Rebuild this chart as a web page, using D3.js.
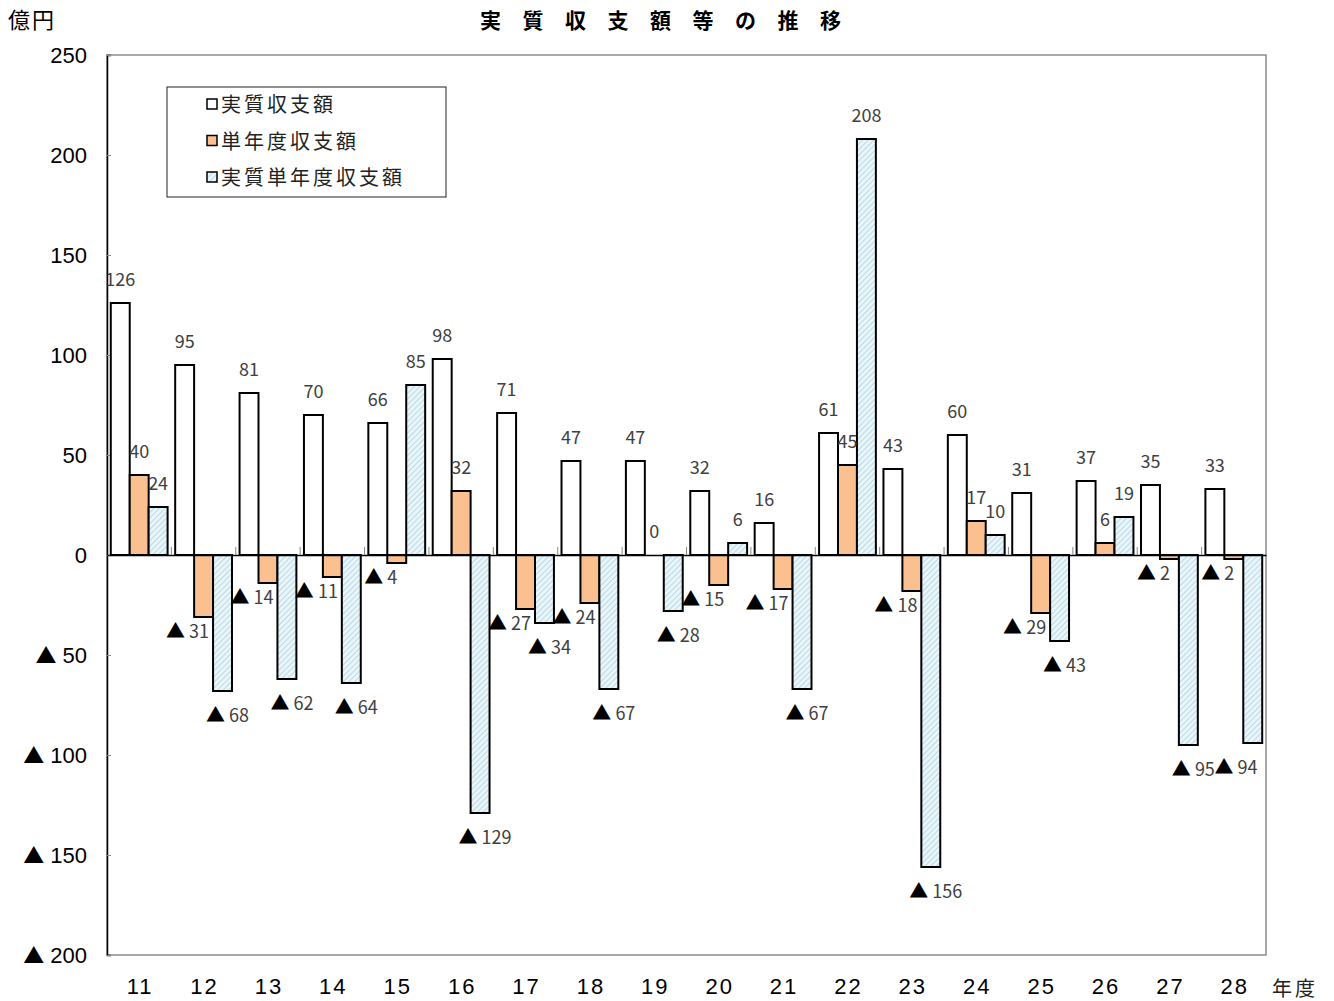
<!DOCTYPE html>
<html><head><meta charset="utf-8">
<script src="https://cdn.jsdelivr.net/npm/d3@7"></script>
<style>body{margin:0;background:#fff}svg{display:block}</style>
</head><body>
<svg id="c" width="1334" height="1001"></svg>
<script>
const categories = ["11","12","13","14","15","16","17","18","19","20","21","22","23","24","25","26","27","28"];
const seriesNames = ["実質収支額","単年度収支額","実質単年度収支額"];
const jisshitsu = [126,95,81,70,66,98,71,47,47,32,16,61,43,60,31,37,35,33];
const tannendo = [40,-31,-14,-11,-4,32,-27,-24,0,-15,-17,45,-18,17,-29,6,-2,-2];
const jisshitsuTannendo = [24,-68,-62,-64,85,-129,-34,-67,-28,6,-67,208,-156,10,-43,19,-95,-94];
const yTicks = [250,200,150,100,50,0,-50,-100,-150,-200];
const title = "実質収支額等の推移";
const unitLabel = "億円";
const xUnitLabel = "年度";

const seriesValues = [jisshitsu, tannendo, jisshitsuTannendo];
const svg = d3.select("#c");
const L = 107, R = 1266, T = 55, B = 955;
const font = "'Noto Sans CJK JP','Noto Sans',sans-serif";
const numFont = "'Liberation Sans',Arial,sans-serif";

const defs = svg.append("defs");
const pat = defs.append("pattern").attr("id","hatch").attr("patternUnits","userSpaceOnUse")
  .attr("width",4).attr("height",4).attr("patternTransform","rotate(45)");
pat.append("rect").attr("width",4).attr("height",4).attr("fill","#eaf5f9");
pat.append("line").attr("x1",0).attr("y1",0).attr("x2",0).attr("y2",4).attr("stroke","#98c9dc").attr("stroke-width",1.2);
const fills = ["#ffffff","#fac090","url(#hatch)"];

const x = d3.scaleBand().domain(categories).range([L,R]).paddingInner(0).paddingOuter(0);
const xs = d3.scaleBand().domain(d3.range(3)).range([0,x.bandwidth()]).paddingInner(0).paddingOuter(0.2);
const y = d3.scaleLinear().domain([-200,250]).range([B,T]);

// frame
svg.append("rect").attr("x",L).attr("y",T).attr("width",R-L).attr("height",B-T)
  .attr("fill","none").attr("stroke","#8c8c8c").attr("stroke-width",1.5);

// y axis
const yAxis = d3.axisRight(y).tickValues(yTicks).tickSize(4).tickFormat("");
const ya = svg.append("g").attr("transform",`translate(${L},0)`).call(yAxis);
ya.select(".domain").attr("stroke","#000").attr("stroke-width",1.5);
ya.selectAll(".tick line").attr("stroke","#888");
const yl = svg.append("g").selectAll("text").data(yTicks).join("text")
  .attr("x",87).attr("y",d=>y(d)+8).attr("text-anchor","end")
  .attr("font-family",numFont).attr("font-size",22).attr("fill","#000");
yl.each(function(d){
  const t = d3.select(this);
  if (d < 0) {
    t.append("tspan").attr("font-family",font).attr("font-size",21).text("▲");
    t.append("tspan").text(" " + Math.abs(d));
  } else t.text(String(d));
});

// bars
const groups = svg.append("g").selectAll("g").data(categories).join("g")
  .attr("transform",d=>`translate(${x(d)},0)`);
groups.selectAll("rect").data((c,i)=>seriesValues.map((s,k)=>({k,v:s[i]}))).join("rect")
  .attr("x",d=>xs(d.k)).attr("width",xs.bandwidth())
  .attr("y",d=>y(Math.max(0,d.v))).attr("height",d=>Math.abs(y(d.v)-y(0)))
  .attr("fill",d=>fills[d.k]).attr("stroke",d=>d.k===1 && d.v===0 ? "none" : "#000").attr("stroke-width",2);

// zero axis
const xAxis = d3.axisTop(x).tickSize(0).tickFormat("");
const xa = svg.append("g").attr("transform",`translate(0,${y(0)})`).call(xAxis);
xa.select(".domain").attr("stroke","#000").attr("stroke-width",1.5);
svg.append("g").selectAll("line").data(categories.slice(1)).join("line")
  .attr("x1",d=>x(d)).attr("x2",d=>x(d)).attr("y1",y(0)-8).attr("y2",y(0))
  .attr("stroke","#888").attr("stroke-width",1);

// data labels
const labelData = [];
categories.forEach((c,i)=>seriesValues.forEach((s,k)=>labelData.push({c,k,v:s[i]})));
const lab = svg.append("g").attr("font-family",font).attr("font-size",18).attr("text-anchor","middle");
labelData.forEach(d=>{
  const cx = x(d.c) + xs(d.k) + xs.bandwidth()/2;
  if (d.v >= 0) {
    lab.append("text").attr("x",cx).attr("y",y(d.v)-17).attr("fill","#404040").text(String(d.v));
  } else {
    const dx = d.k===1 ? -16 : (d.k===2 ? 5 : 0);
    const dy = d.k===1 ? 21 : 31;
    const px = Math.min(cx + dx, R - 30);
    const t = lab.append("text").attr("x",px).attr("y",y(d.v)+dy);
    t.append("tspan").attr("fill","#000").attr("font-size",19).text("▲");
    t.append("tspan").attr("fill","#404040").text(" " + Math.abs(d.v));
  }
});

// x labels
svg.append("g").selectAll("text").data(categories).join("text")
  .attr("x",d=>x(d)+x.bandwidth()/2+1).attr("y",994).attr("text-anchor","middle")
  .attr("font-family",numFont).attr("font-size",22).attr("letter-spacing",2)
  .attr("fill","#000").text(d=>d);
svg.append("text").attr("x",1272).attr("y",996).attr("font-family",font).attr("font-size",20)
  .attr("letter-spacing",3).attr("fill","#222").text(xUnitLabel);

// unit & title
svg.append("text").attr("x",8).attr("y",28).attr("font-family",font).attr("font-size",22)
  .attr("letter-spacing",2).attr("fill","#000").text(unitLabel);
svg.append("text").attr("x",480).attr("y",28).attr("font-family",font).attr("font-size",21)
  .attr("font-weight","bold").attr("letter-spacing",21.5).attr("fill","#000").text(title);

// legend
const lg = svg.append("g");
lg.append("rect").attr("x",167).attr("y",87).attr("width",279).attr("height",110)
  .attr("fill","#fff").attr("stroke","#222").attr("stroke-width",1);
seriesNames.forEach((n,k)=>{
  const yy = 104 + k*36.5;
  lg.append("rect").attr("x",207).attr("y",yy-5).attr("width",10).attr("height",10)
    .attr("fill",fills[k]).attr("stroke","#000").attr("stroke-width",1.5);
  lg.append("text").attr("x",221).attr("y",yy+8).attr("font-family",font).attr("font-size",20)
    .attr("letter-spacing",3).attr("fill","#222").text(n);
});
</script>
</body></html>
